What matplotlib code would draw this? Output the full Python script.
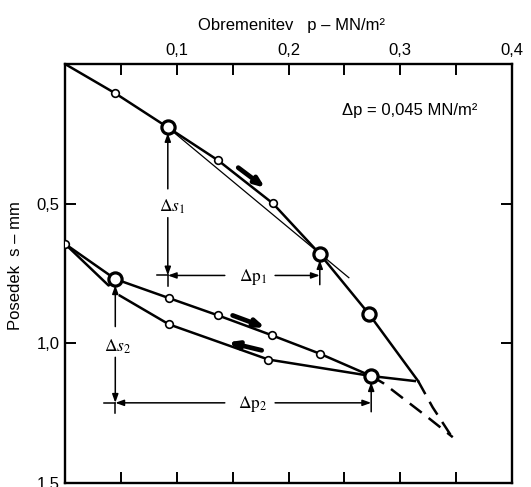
import matplotlib
matplotlib.use('Agg')
import matplotlib.pyplot as plt

plt.rcParams['font.family'] = ['Liberation Sans', 'DejaVu Sans']
plt.rcParams['mathtext.fontset'] = 'stix'

# ---------------- data ----------------
# virgin loading curve  p [MN/m2], s [mm]
load_p = [0.0, 0.045, 0.092, 0.137, 0.186, 0.228, 0.272, 0.316]
load_s = [0.0, 0.105, 0.227, 0.345, 0.499, 0.680, 0.895, 1.135]
load_ext_p = [0.316, 0.329, 0.349]
load_ext_s = [1.135, 1.229, 1.352]
secant1_p = [0.092, 0.254]
secant1_s = [0.227, 0.765]

# reloading branch
reload_p = [0.0, 0.045, 0.093, 0.137, 0.185, 0.228, 0.274]
reload_s = [0.644, 0.770, 0.838, 0.900, 0.971, 1.037, 1.117]
reload_ext_p = [0.274, 0.285, 0.324, 0.347]
reload_ext_s = [1.117, 1.143, 1.263, 1.336]

# unloading branch
unload_p = [0.313, 0.274, 0.182, 0.093, 0.049]
unload_s = [1.135, 1.117, 1.058, 0.932, 0.829]
unload_end_p = [0.045, 0.039, 0.0]
unload_end_s = [0.770, 0.793, 0.644]

# measured points
small_p = [0.045, 0.137, 0.186, 0.0, 0.093, 0.137, 0.185, 0.228, 0.182, 0.093]
small_s = [0.105, 0.345, 0.499, 0.644, 0.838, 0.900, 0.971, 1.037, 1.058, 0.932]
big_p = [0.092, 0.228, 0.272, 0.045, 0.274]
big_s = [0.227, 0.680, 0.895, 0.770, 1.117]

x_ticks = [0.1, 0.2, 0.3, 0.4]
x_ticklabels = ['0,1', '0,2', '0,3', '0,4']
x_minor = [0.05, 0.15, 0.25, 0.35]
y_ticks = [0.5, 1.0, 1.5]
y_ticklabels = ['0,5', '1,0', '1,5']

# ---------------- figure ----------------
W, H = 531, 487
fig = plt.figure(figsize=(W / 100, H / 100), dpi=100)
ax = fig.add_axes([65 / W, 1 - 483 / H, 447 / W, 419 / H])
ax.set_xlim(0, 0.4)
ax.set_ylim(1.5, 0)

lw_main = 1.8
dash = (0, (6, 3.5))
ax.plot(load_p, load_s, color='black', lw=lw_main, zorder=3)
ax.plot(load_ext_p, load_ext_s, color='black', lw=lw_main, ls=dash, zorder=3)
ax.plot(secant1_p, secant1_s, color='black', lw=0.9, zorder=3)
ax.plot(reload_p, reload_s, color='black', lw=lw_main, zorder=3)
ax.plot(reload_ext_p, reload_ext_s, color='black', lw=lw_main, ls=dash, zorder=3)
ax.plot(unload_p, unload_s, color='black', lw=lw_main, zorder=3)
ax.plot(unload_end_p, unload_end_s, color='black', lw=lw_main, zorder=3)

ax.plot(small_p, small_s, 'o', ms=5.5, mfc='white', mec='black', mew=1.2, zorder=5)
ax.plot(big_p, big_s, 'o', ms=9.5, mfc='white', mec='black', mew=2.3, zorder=5)

# ---------- dimension lines ----------
def arr(tail, head):
    ax.annotate('', xy=head, xytext=tail,
                arrowprops=dict(arrowstyle='-|>,head_length=0.5,head_width=0.18',
                                lw=1.1, color='black', shrinkA=0, shrinkB=0),
                zorder=4)

def seg(p0, p1):
    ax.plot([p0[0], p1[0]], [p0[1], p1[1]], color='black', lw=1.1, zorder=4)

lab_font = dict(fontsize=12.5, ha='center', va='center')

# Δs1 / Δp1
x1, y1 = big_p[0], 0.757
arr((x1, 0.447), (x1, big_s[0] + 0.02))
ax.text(x1 + 0.004, 0.51, r'$\Delta s_1$', **lab_font)
arr((x1, 0.55), (x1, y1))
seg((x1, y1), (x1, 0.793))
seg((0.082, y1), (x1, y1))
arr((0.143, y1), (x1, y1))
ax.text(0.168, 0.762, r'$\Delta \mathrm{p}_1$', **lab_font)
arr((0.188, y1), (big_p[1], y1))
arr((big_p[1], 0.79), (big_p[1], big_s[1] + 0.022))

# Δs2 / Δp2
x2, y2 = big_p[3], 1.213
arr((x2, 0.94), (x2, big_s[3] + 0.022))
ax.text(x2 + 0.002, 1.013, r'$\Delta s_2$', **lab_font)
arr((x2, 1.05), (x2, y2))
seg((x2, y2), (x2, 1.25))
seg((0.035, y2), (x2, y2))
arr((0.143, y2), (x2, y2))
ax.text(0.168, 1.216, r'$\Delta \mathrm{p}_2$', **lab_font)
arr((0.188, y2), (big_p[4], y2))
arr((big_p[4], 1.245), (big_p[4], big_s[4] + 0.022))

# ---------- direction arrows ----------
def bold_arrow(tail, head):
    ax.annotate('', xy=head, xytext=tail,
                arrowprops=dict(arrowstyle='-|>,head_length=0.55,head_width=0.22',
                                lw=3.4, color='black', shrinkA=0, shrinkB=0),
                zorder=4)

bold_arrow((0.155, 0.371), (0.179, 0.443))
bold_arrow((0.150, 0.900), (0.179, 0.943))
bold_arrow((0.176, 1.025), (0.146, 0.996))

ax.text(0.248, 0.183, 'Δp = 0,045 MN/m²', fontsize=12, ha='left', va='baseline')

# ---------- axes styling ----------
for sp in ax.spines.values():
    sp.set_linewidth(1.7)
ax.set_xticks(x_ticks)
ax.set_xticklabels(x_ticklabels)
ax.set_xticks(x_minor, minor=True)
ax.set_yticks(y_ticks)
ax.set_yticklabels(y_ticklabels)
ax.tick_params(which='both', direction='in', length=8, width=1.4,
               top=True, bottom=True, left=True, right=True,
               labeltop=True, labelbottom=False, labelsize=12, pad=4)

fig.text(292 / W, 1 - 30 / H, 'Obremenitev   p – MN/m²', fontsize=12,
         ha='center', va='baseline')
fig.text(16 / W, 1 - 266 / H, 'Posedek  s – mm', fontsize=12, rotation=90,
         ha='center', va='center')

fig.savefig('out.png', dpi=100)
